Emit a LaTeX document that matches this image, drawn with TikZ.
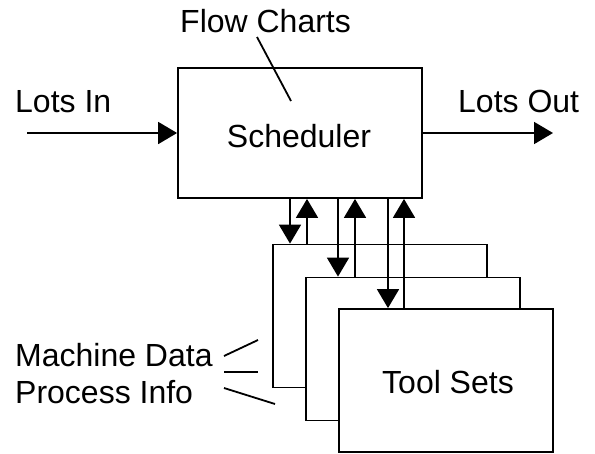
\documentclass[tikz,border=0pt]{standalone}
\usepackage{fontspec}
\setmainfont{Liberation Sans}
\usetikzlibrary{arrows.meta,positioning}

\begin{document}
\begin{tikzpicture}[x=1pt,y=-1pt,
        every node/.style={font=\fontsize{32}{38}\selectfont, inner sep=0pt},
        box/.style={draw, line width=1.8pt, fill=white, minimum width=214pt, minimum height=143pt},
        flow/.style={line width=1.8pt, -{Triangle[length=19pt,width=22pt]}},
        tick/.style={line width=1.8pt}]
        \useasboundingbox (0,0) rectangle (595,453);

        % the scheduler and the stack of tool sets, back to front
        \node[draw, line width=1.8pt, minimum width=244pt, minimum height=130pt] (sched) at (300,133) {};
        \node[box] (tool1) at (380,316) {};
        \node[box] (tool2) at (413,349) {};
        \node[box] (tool3) at (446,380.5) {};

        % texts
        \node[anchor=base] (schedtxt) at (299,147) {Scheduler};
        \node[anchor=base] (tooltxt) at (448,393) {Tool Sets};
        \node[anchor=base west] (flowtxt) at (180,32) {Flow Charts};
        \node[anchor=base west] (lotsin) at (15,112) {Lots In};
        \node[anchor=base west] (lotsout) at (458,112) {Lots Out};
        \node[anchor=base west] (machtxt) at (15,366) {Machine Data};
        \node[anchor=base west] (proctxt) at (15,403) {Process Info};

        % free ends and the x positions of the links
        \coordinate (in) at (27,133);
        \coordinate (out) at (553,133);
        \coordinate (dn1) at (290,0);
        \coordinate (up1) at (307,0);
        \coordinate (dn2) at (338,0);
        \coordinate (up2) at (355,0);
        \coordinate (dn3) at (388,0);
        \coordinate (up3) at (404,0);

        \draw[flow] (in) -- (sched);                                  % lots coming in
        \draw[flow] (sched) -- (out);                                 % lots going out
        \draw[flow] (sched.south -| dn1) -- (tool1.north -| dn1);     % down to first set
        \draw[flow] (tool1.north -| up1) -- (sched.south -| up1);     % back up
        \draw[flow] (sched.south -| dn2) -- (tool2.north -| dn2);     % down to second set
        \draw[flow] (tool2.north -| up2) -- (sched.south -| up2);     % back up
        \draw[flow] (sched.south -| dn3) -- (tool3.north -| dn3);     % down to third set
        \draw[flow] (tool3.north -| up3) -- (sched.south -| up3);     % back up

        % pointer lines
        \draw[tick] (257,37) -- (291,101);                            % flow charts
        \draw[tick] (224,356) -- (258,340);
        \draw[tick] (224,372) -- (258,372);
        \draw[tick] (224,388) -- (275,404);
    \end{tikzpicture}
\end{document}
